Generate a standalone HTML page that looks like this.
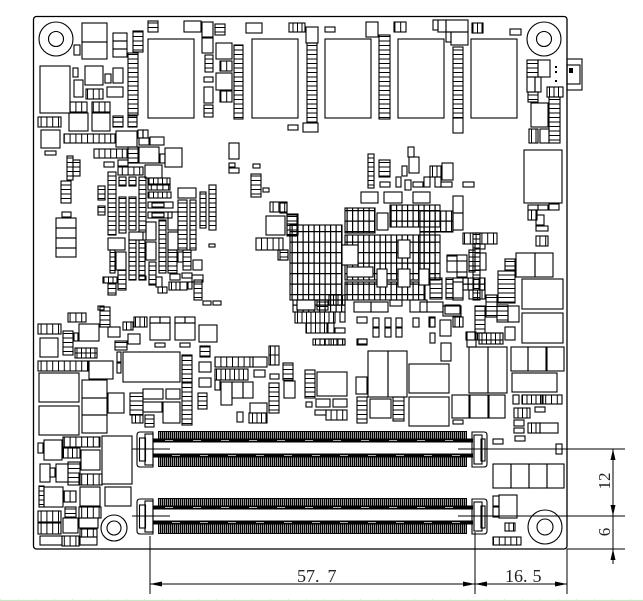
<!DOCTYPE html>
<html><head><meta charset="utf-8">
<style>
html,body{margin:0;padding:0;background:#fff}
svg{display:block}
rect,circle,path{fill:none;stroke:#000;stroke-width:1.1}
line{stroke:#000;stroke-width:1}
.h{fill:url(#ph)} .v{fill:url(#pv)} .v6{fill:url(#pv6)} .g{fill:url(#pg)} .w{fill:#fff}
.blk{fill:#000;stroke:none}
.teeth{fill:url(#pt);stroke:none}
text{font-family:"Liberation Serif",serif;fill:#222}
</style></head>
<body>
<svg width="643" height="601" viewBox="0 0 643 601" xmlns="http://www.w3.org/2000/svg">
<defs>
<pattern id="ph" patternUnits="userSpaceOnUse" width="50" height="4.5"><path d="M0 0.5H50" style="stroke:#000;stroke-width:1;fill:none"/></pattern>
<pattern id="pv" patternUnits="userSpaceOnUse" width="4.5" height="50"><path d="M0.5 0V50" style="stroke:#000;stroke-width:1;fill:none"/></pattern>
<pattern id="pv6" patternUnits="userSpaceOnUse" width="5.8" height="50"><path d="M0.5 0V50" style="stroke:#000;stroke-width:1;fill:none"/></pattern>
<pattern id="pg" patternUnits="userSpaceOnUse" width="5.5" height="10.5"><path d="M0.6 0V10.5M0 0.6H5.5" style="stroke:#000;stroke-width:1.2;fill:none"/></pattern>
<pattern id="pt" patternUnits="userSpaceOnUse" width="2" height="20"><rect x="0" y="0" width="1.4" height="20" style="fill:#000;stroke:none"/></pattern>
</defs>

<!-- board outline -->
<rect x="33.5" y="16.5" width="533.5" height="532.5" rx="3" style="stroke-width:1.3"/>
<!-- right tab -->
<rect x="567" y="59" width="15" height="31"/><rect x="567" y="65" width="13" height="19"/><rect x="569" y="68" width="4" height="5" class="blk"/>
<rect x="555" y="66" width="2" height="2" class="blk"/><rect x="555" y="71" width="2" height="2" class="blk"/><rect x="555" y="80" width="2" height="2" class="blk"/>

<!-- mounting holes -->
<circle cx="56" cy="39" r="17"/><circle cx="56" cy="39" r="7.5"/>
<circle cx="544" cy="39" r="17"/><circle cx="544" cy="39" r="7.5"/>
<circle cx="114" cy="528" r="13"/><circle cx="114" cy="528" r="7"/>
<circle cx="545" cy="527" r="17"/><circle cx="545" cy="527" r="8"/>

<!-- memory chips -->
<rect x="148" y="39" width="46" height="79"/><rect x="252" y="39" width="46" height="79"/>
<rect x="325" y="39" width="46" height="79"/><rect x="398" y="39" width="46" height="79"/>
<rect x="471" y="39" width="46" height="79"/>

<!-- top left -->
<rect x="82" y="23" width="25" height="19"/><rect x="82" y="42" width="25" height="17"/>
<rect x="74" y="45" width="6" height="10"/>
<rect x="113" y="33" width="14" height="8"/><rect x="113" y="41" width="14" height="8"/><rect x="113" y="49" width="14" height="8"/>
<rect class="h" x="133" y="31" width="10" height="21"/>
<rect class="h" x="128" y="53" width="10" height="62"/>
<rect x="40" y="66" width="30" height="47"/>
<rect x="73" y="68" width="5" height="9"/>
<rect x="85" y="66" width="18" height="19"/>
<rect x="105" y="74" width="6" height="9"/>
<rect x="113" y="68" width="10" height="15"/>
<rect x="74" y="80" width="9" height="17"/>
<rect class="v6" x="86" y="89" width="17" height="10"/>
<rect x="107" y="87" width="16" height="10"/>
<rect class="v6" x="70" y="102" width="17" height="10"/>
<rect class="v6" x="92" y="102" width="18" height="10"/>
<rect x="69" y="113" width="19" height="18"/>
<rect x="92" y="113" width="18" height="18"/>
<rect class="v6" x="38" y="117" width="23" height="10"/>
<rect x="41" y="130" width="19" height="18"/>
<rect x="45" y="151" width="11" height="4"/>
<rect class="v6" x="64" y="134" width="51" height="9"/>
<rect x="116" y="131" width="21" height="16"/>
<rect class="h" x="113" y="116" width="10" height="11"/>
<rect class="h" x="128" y="116" width="9" height="11"/>
<rect x="138" y="130" width="5" height="8"/><rect x="143" y="130" width="5" height="8"/><rect x="139" y="138" width="10" height="7"/>
<rect x="150" y="137" width="14" height="8"/>
<rect class="v6" x="94" y="149" width="33" height="9"/>
<rect class="h" x="128" y="147" width="10" height="16"/>
<rect x="139" y="147" width="20" height="16"/>
<rect x="160" y="154" width="5" height="9"/>
<rect x="165" y="148" width="17" height="19"/>
<rect x="104" y="162" width="10" height="5"/>
<rect x="118" y="160" width="10" height="6"/>

<!-- top row small parts -->
<rect class="h" x="148" y="21" width="10" height="11"/>
<rect x="184" y="21" width="17" height="11"/>
<rect x="202" y="22" width="11" height="15"/>
<rect class="h" x="215" y="24" width="10" height="11"/>
<rect x="246" y="23" width="16" height="10"/>
<rect class="v" x="289" y="23" width="16" height="9"/>
<rect x="306" y="27" width="12" height="16"/>
<rect x="325" y="27" width="10" height="5"/>
<rect x="366" y="22" width="12" height="15"/>
<rect class="v6" x="394" y="22" width="12" height="10"/>
<rect x="433" y="20" width="5" height="10"/><rect x="438" y="20" width="8" height="12"/><rect x="446" y="20" width="22" height="12"/>
<rect x="446" y="32" width="5" height="10"/><rect x="451" y="32" width="17" height="13"/>
<rect class="v" x="472" y="23" width="11" height="10"/>
<rect x="510" y="29" width="11" height="6"/>

<!-- columns near chips -->
<rect x="202" y="38" width="11" height="15"/>
<rect class="h" x="205" y="55" width="8" height="17"/>
<rect x="204" y="77" width="9" height="5"/>
<rect x="204" y="87" width="9" height="16"/>
<rect class="h" x="204" y="105" width="9" height="12"/>
<rect x="216" y="43" width="16" height="16"/><rect class="v6" x="220" y="61" width="12" height="10"/>
<rect x="216" y="73" width="16" height="17"/><rect class="v6" x="220" y="91" width="12" height="11"/>
<rect class="h" x="234" y="45" width="9" height="74"/>
<rect class="h" x="307" y="43" width="10" height="79"/>
<rect x="303" y="123" width="15" height="9"/><rect x="288" y="125" width="10" height="5"/>
<rect class="h" x="379" y="35" width="11" height="84"/>
<rect class="h" x="453" y="47" width="10" height="71"/>
<rect x="453" y="118" width="10" height="15"/>

<!-- right top -->
<rect class="h" x="527" y="60" width="11" height="17"/><rect x="538" y="60" width="12" height="17"/>
<rect x="527" y="77" width="8" height="15"/><rect x="535" y="77" width="6" height="15"/>
<rect class="v" x="547" y="87" width="16" height="10"/>
<rect class="h" x="528" y="92" width="10" height="10"/>
<rect x="531" y="103" width="17" height="24"/>
<rect class="h" x="549" y="97" width="11" height="46"/>
<rect class="v" x="529" y="129" width="9" height="14"/><rect x="540" y="129" width="9" height="14"/>
<rect x="524" y="150" width="38" height="53"/>
<rect x="528" y="205" width="10" height="5"/><rect x="538" y="205" width="10" height="5"/><rect x="549" y="204" width="10" height="6"/>
<rect class="v" x="528" y="210" width="9" height="10"/><rect x="536" y="215" width="8" height="10"/><rect x="536" y="226" width="12" height="5"/>
<rect class="v6" x="536" y="236" width="12" height="10"/>
<rect x="516" y="253" width="19" height="24"/><rect x="535" y="253" width="18" height="24"/>
<rect x="522" y="279" width="41" height="30"/><rect x="522" y="313" width="41" height="30"/>
<rect x="511" y="347" width="17" height="24"/><rect x="528" y="347" width="18" height="24"/><rect x="547" y="347" width="17" height="24"/>
<rect x="512" y="373" width="45" height="19"/>
<rect x="513" y="395" width="6" height="9"/><rect class="v" x="522" y="395" width="20" height="9"/><rect class="v6" x="543" y="395" width="19" height="9"/>
<rect class="v" x="514" y="408" width="16" height="10"/><rect x="535" y="407" width="10" height="5"/>
<rect x="514" y="420" width="10" height="6"/><rect class="v" x="528" y="423" width="12" height="10"/><rect x="540" y="423" width="18" height="10"/>
<rect x="514" y="428" width="10" height="5"/><rect x="515" y="436" width="10" height="5"/>
<rect x="493" y="439" width="10" height="5"/>
<rect x="556" y="444" width="6" height="10"/>
<rect x="493" y="464" width="18" height="24"/><rect x="511" y="464" width="18" height="24"/><rect x="529" y="464" width="18" height="24"/><rect x="547" y="464" width="17" height="24"/>
<rect x="493" y="496" width="6" height="10"/><rect x="493" y="507" width="6" height="10"/><rect x="499" y="495" width="18" height="23"/>
<rect class="v" x="505" y="523" width="10" height="8"/>
<rect class="v6" x="493" y="537" width="28" height="8"/>

<!-- middle scattered -->
<rect x="229" y="143" width="10" height="16"/><rect x="229" y="163" width="6" height="4"/><rect x="229" y="168" width="10" height="5"/>
<rect x="253" y="164" width="7" height="4"/><rect class="h" x="251" y="174" width="10" height="23"/><rect x="263" y="188" width="6" height="4"/>
<rect class="h" x="368" y="154" width="6" height="34"/>
<rect class="h" x="379" y="160" width="11" height="17"/><rect x="380" y="182" width="10" height="5"/>
<rect x="408" y="147" width="6" height="10"/><rect x="409" y="157" width="10" height="16"/>
<rect x="402" y="166" width="5" height="10"/><rect x="396" y="177" width="5" height="10"/><rect x="405" y="180" width="6" height="10"/>
<rect x="413" y="182" width="10" height="5"/><rect x="424" y="177" width="6" height="10"/>
<rect class="v" x="430" y="166" width="11" height="11"/><rect x="442" y="163" width="11" height="17"/>
<rect x="435" y="177" width="6" height="10"/><rect x="441" y="182" width="11" height="5"/>
<rect x="463" y="182" width="11" height="5"/>
<rect x="361" y="192" width="17" height="11"/><rect x="384" y="192" width="18" height="11"/><rect x="413" y="192" width="17" height="11"/>
<rect x="453" y="196" width="10" height="17"/><rect x="453" y="213" width="10" height="17"/>
<rect class="v6" x="270" y="202" width="17" height="10"/>
<rect x="266" y="216" width="19" height="19"/>
<rect x="287" y="214" width="11" height="10"/><rect x="287" y="224" width="11" height="11"/>
<rect class="v6" x="256" y="238" width="27" height="12"/>
<rect x="278" y="250" width="10" height="10"/>
<rect x="209" y="244" width="6" height="3"/>
<rect x="280" y="203" width="7" height="10"/>
<rect class="h" x="280" y="250" width="8" height="10"/>

<!-- left small group -->
<rect class="h" x="67" y="156" width="6" height="24"/><rect class="h" x="73" y="160" width="7" height="16"/>
<rect class="h" x="61" y="181" width="10" height="22"/>
<rect x="62" y="212" width="9" height="5"/>
<rect x="56" y="218" width="20" height="10"/><rect x="56" y="228" width="20" height="10"/><rect x="56" y="238" width="20" height="10"/><rect x="56" y="248" width="20" height="9"/>

<!-- left dense region -->
<rect class="h" x="98" y="186" width="7" height="14"/>
<rect class="h" x="98" y="206" width="7" height="9"/>
<rect class="h" x="108" y="172" width="8" height="63"/>
<rect class="h" x="119" y="197" width="7" height="36"/>
<rect class="h" x="129" y="197" width="7" height="33"/>
<rect class="h" x="139" y="177" width="7" height="55"/>
<rect class="v6" x="118" y="167" width="25" height="8"/>
<rect x="145" y="165" width="17" height="13"/>
<rect class="h" x="119" y="177" width="7" height="9"/><rect class="h" x="129" y="177" width="7" height="9"/>
<rect class="v" x="148" y="178" width="22" height="6"/>
<rect class="v6" x="148" y="185" width="22" height="5"/>
<rect class="v" x="148" y="192" width="23" height="6"/>
<rect x="148" y="202" width="25" height="6"/><rect x="152" y="203" width="12" height="4"/>
<rect x="148" y="212" width="24" height="6"/><rect x="152" y="213" width="12" height="4"/>
<rect x="178" y="188" width="18" height="10"/>
<rect class="h" x="178" y="200" width="9" height="50"/>
<rect class="h" x="190" y="200" width="6" height="50"/>
<rect class="h" x="200" y="192" width="6" height="36"/>
<rect class="h" x="209" y="185" width="7" height="45"/>
<rect class="h" x="159" y="220" width="7" height="53"/>
<rect x="146" y="222" width="10" height="18"/>
<rect x="168" y="212" width="10" height="18"/>
<rect x="168" y="232" width="10" height="18"/>
<rect x="108" y="238" width="17" height="12"/>
<rect x="129" y="232" width="14" height="8"/>
<rect class="h" x="110" y="250" width="5" height="23"/>
<rect x="116" y="252" width="10" height="18"/>
<rect class="h" x="129" y="240" width="7" height="40"/>
<rect class="h" x="139" y="240" width="6" height="40"/>
<rect x="146" y="242" width="10" height="18"/>
<rect class="h" x="149" y="262" width="7" height="23"/>
<rect class="h" x="168" y="250" width="9" height="23"/>
<rect x="178" y="252" width="5" height="10"/>
<rect class="h" x="183" y="250" width="8" height="20"/>
<rect x="193" y="260" width="9" height="10"/>
<rect class="v" x="103" y="277" width="14" height="6"/>
<rect class="h" x="108" y="283" width="8" height="12"/>
<rect class="h" x="118" y="270" width="8" height="20"/>
<rect x="139" y="276" width="7" height="4"/>
<rect x="156" y="277" width="6" height="10"/>
<rect class="v" x="158" y="287" width="9" height="6"/>
<rect x="170" y="274" width="10" height="6"/>
<rect class="v" x="169" y="282" width="11" height="8"/>
<rect x="182" y="273" width="10" height="5"/>
<rect x="192" y="275" width="11" height="7"/>
<rect x="180" y="282" width="7" height="8"/>
<rect x="188" y="282" width="4" height="7"/>
<rect class="h" x="194" y="280" width="8" height="20"/>
<rect x="203" y="301" width="8" height="4"/><rect x="213" y="301" width="8" height="4"/>
<rect x="98" y="306" width="6" height="4"/>

<!-- center dense region -->
<rect class="g" x="290" y="225" width="52" height="75"/>
<rect class="g" x="345" y="208" width="30" height="25"/>
<rect class="g" x="390" y="205" width="50" height="22"/>
<rect class="g" x="345" y="235" width="95" height="45"/>
<rect class="g" x="345" y="282" width="80" height="18"/>
<rect class="g" x="420" y="211" width="33" height="21"/>
<rect class="g" x="420" y="232" width="15" height="48"/>
<rect class="g" x="463" y="278" width="22" height="12"/>
<rect class="g" x="293" y="300" width="52" height="12"/>
<rect class="w" x="342" y="245" width="16" height="20"/>
<rect class="w" x="377" y="213" width="11" height="17"/>
<rect class="w" x="398" y="240" width="12" height="18"/>
<rect class="w" x="377" y="269" width="10" height="18"/>
<rect class="w" x="398" y="269" width="12" height="18"/>
<rect class="w" x="419" y="269" width="10" height="16"/>
<rect class="w" x="347" y="267" width="26" height="10"/>
<rect class="w" x="297" y="300" width="18" height="10"/>
<rect class="h" x="287" y="215" width="10" height="21"/>
<rect class="h" x="473" y="233" width="7" height="67"/>
<rect x="447" y="255" width="20" height="17"/>
<rect x="453" y="278" width="10" height="22"/>
<rect class="v6" x="463" y="233" width="34" height="11"/>
<rect x="475" y="244" width="10" height="5"/>
<rect x="447" y="256" width="10" height="5"/>
<rect x="457" y="261" width="10" height="16"/>
<rect class="h" x="469" y="250" width="6" height="22"/>
<rect x="475" y="253" width="11" height="17"/>
<rect class="v" x="469" y="290" width="16" height="9"/>
<rect class="h" x="430" y="278" width="12" height="21"/>
<rect class="h" x="446" y="278" width="7" height="21"/>
<rect x="453" y="282" width="10" height="16"/>
<rect class="h" x="505" y="259" width="10" height="11"/>
<rect class="h" x="498" y="271" width="17" height="32"/>
<rect x="420" y="302" width="23" height="10"/>
<rect x="443" y="306" width="18" height="10"/>
<rect class="h" x="475" y="306" width="10" height="27"/>
<rect class="h" x="486" y="295" width="11" height="22"/>
<rect class="h" x="497" y="305" width="11" height="17"/>
<rect x="508" y="306" width="11" height="16"/>
<rect x="429" y="317" width="6" height="10"/>
<rect x="440" y="320" width="11" height="16"/>
<rect class="v" x="453" y="317" width="10" height="10"/>
<rect class="v" x="476" y="333" width="27" height="7"/>
<rect x="505" y="327" width="10" height="13"/>
<rect x="466" y="332" width="9" height="8"/>

<!-- lower middle -->
<rect x="297" y="300" width="18" height="10"/><rect class="h" x="317" y="300" width="11" height="10"/>
<rect class="v" x="329" y="295" width="16" height="10"/>
<rect class="v" x="295" y="312" width="40" height="11"/>
<rect class="v" x="306" y="323" width="21" height="10"/>
<rect x="328" y="323" width="6" height="10"/><rect x="335" y="328" width="10" height="5"/>
<rect x="340" y="312" width="5" height="10"/>
<rect class="v" x="313" y="339" width="32" height="6"/>
<rect x="357" y="339" width="10" height="6"/>
<rect x="357" y="317" width="10" height="6"/>
<rect x="354" y="302" width="17" height="10"/><rect x="371" y="302" width="17" height="10"/>
<rect x="390" y="300" width="12" height="6"/>
<rect x="410" y="300" width="17" height="12"/>
<rect x="445" y="305" width="15" height="9"/>
<rect x="373" y="318" width="6" height="9"/><rect x="373" y="328" width="6" height="9"/>
<rect x="385" y="318" width="6" height="9"/><rect x="385" y="328" width="6" height="9"/>
<rect x="396" y="318" width="6" height="9"/><rect x="396" y="328" width="6" height="9"/>
<rect x="413" y="318" width="6" height="9"/>
<rect x="430" y="318" width="5" height="9"/><rect x="430" y="333" width="5" height="10"/>
<rect x="441" y="343" width="10" height="18"/>
<rect x="467" y="332" width="9" height="15"/>
<rect class="v" x="479" y="333" width="24" height="11"/>
<rect x="358" y="339" width="9" height="5"/>
<rect class="v6" x="320" y="339" width="25" height="6"/>
<rect x="368" y="351" width="20" height="46"/><rect x="388" y="351" width="19" height="46"/>
<rect x="356" y="377" width="11" height="17"/>
<rect class="h" x="357" y="397" width="10" height="26"/>
<rect x="370" y="399" width="21" height="19"/>
<rect class="h" x="393" y="397" width="11" height="24"/>
<rect x="409" y="364" width="40" height="29"/><rect x="409" y="397" width="40" height="29"/>
<rect x="452" y="395" width="17" height="23"/><rect x="470" y="395" width="18" height="23"/><rect x="489" y="395" width="16" height="23"/>
<rect x="469" y="347" width="19" height="46"/><rect x="488" y="347" width="19" height="46"/>
<rect x="453" y="420" width="10" height="4"/>
<rect class="h" x="305" y="370" width="10" height="28"/>
<rect x="317" y="372" width="30" height="24"/>
<rect x="316" y="399" width="14" height="8"/><rect x="333" y="399" width="14" height="8"/>
<rect x="315" y="410" width="11" height="5"/><rect class="v6" x="326" y="410" width="21" height="10"/>
<rect x="306" y="402" width="6" height="5"/>

<!-- left-middle lower -->
<rect class="v6" x="38" y="324" width="23" height="10"/>
<rect class="v6" x="68" y="313" width="18" height="9"/>
<rect class="h" x="63" y="331" width="10" height="24"/>
<rect x="74" y="333" width="4" height="8"/>
<rect x="40" y="338" width="18" height="19"/>
<rect x="79" y="324" width="20" height="17"/>
<rect class="v" x="75" y="348" width="22" height="10"/><line x1="75" y1="353" x2="97" y2="353"/>
<rect class="v6" x="38" y="361" width="50" height="10"/>
<rect x="39" y="373" width="40" height="29"/>
<rect x="39" y="406" width="40" height="29"/>
<rect x="89" y="361" width="24" height="18"/>
<rect x="82" y="380" width="25" height="18"/><rect x="82" y="398" width="25" height="17"/><rect x="82" y="415" width="25" height="18"/>
<rect x="108" y="393" width="16" height="20"/>
<rect x="123" y="352" width="57" height="30"/>
<rect class="h" x="182" y="355" width="10" height="27"/>
<rect x="199" y="325" width="18" height="17"/>
<rect x="150" y="317" width="10" height="6"/><rect x="160" y="317" width="10" height="6"/><rect x="150" y="323" width="20" height="17"/>
<rect x="175" y="317" width="10" height="6"/><rect x="185" y="317" width="10" height="6"/><rect x="175" y="323" width="20" height="17"/>
<rect x="155" y="343" width="10" height="4"/><rect x="180" y="343" width="10" height="4"/>
<rect x="117" y="352" width="4" height="10"/><rect x="117" y="363" width="4" height="10"/>
<rect class="h" x="115" y="341" width="12" height="9"/>
<rect x="128" y="334" width="12" height="10"/>
<rect class="v" x="123" y="322" width="10" height="8"/>
<rect class="v" x="134" y="317" width="13" height="10"/>
<rect class="h" x="100" y="307" width="10" height="20"/>
<rect x="108" y="327" width="12" height="10"/>
<rect class="h" x="200" y="346" width="10" height="11"/>
<rect x="199" y="362" width="12" height="10"/>
<rect x="199" y="378" width="12" height="9"/>
<rect class="h" x="198" y="393" width="9" height="16"/>
<rect class="v6" x="215" y="357" width="38" height="10"/><rect x="253" y="357" width="14" height="10"/>
<rect class="v" x="215" y="369" width="33" height="11"/>
<rect x="215" y="380" width="5" height="10"/>
<rect x="221" y="382" width="11" height="23"/>
<rect x="232" y="382" width="11" height="16"/><rect x="243" y="382" width="10" height="16"/>
<rect x="254" y="370" width="11" height="7"/>
<rect x="250" y="403" width="17" height="10"/>
<rect class="v" x="249" y="413" width="18" height="10"/>
<rect x="237" y="412" width="6" height="10"/>
<rect class="v" x="269" y="346" width="10" height="19"/><line x1="269" y1="355" x2="279" y2="355"/>
<rect x="270" y="374" width="9" height="5"/>
<rect class="h" x="269" y="383" width="10" height="30"/>
<rect class="h" x="283" y="363" width="10" height="17"/>
<rect x="284" y="381" width="11" height="17"/>
<rect x="143" y="389" width="20" height="10"/><rect x="166" y="389" width="14" height="10"/>
<rect x="143" y="402" width="19" height="10"/>
<rect x="163" y="402" width="17" height="21"/>
<rect class="h" x="182" y="383" width="10" height="42"/>
<rect class="h" x="130" y="393" width="13" height="22"/>
<rect class="v" x="132" y="415" width="11" height="8"/>
<rect class="h" x="145" y="415" width="9" height="12"/>
<rect x="102" y="436" width="30" height="48"/>
<rect class="v6" x="63" y="437" width="37" height="10"/>
<rect class="v" x="63" y="448" width="17" height="10"/>
<rect x="38" y="443" width="5" height="10"/>
<rect x="44" y="440" width="18" height="20"/>
<rect x="81" y="450" width="19" height="20"/>
<rect x="40" y="464" width="10" height="18"/>
<rect x="50" y="468" width="5" height="9"/>
<rect x="56" y="464" width="12" height="18"/>
<rect class="h" x="68" y="462" width="12" height="23"/>
<rect class="v6" x="79" y="474" width="23" height="11"/>
<rect class="h" x="39" y="486" width="5" height="21"/>
<rect x="44" y="487" width="19" height="20"/>
<rect class="v6" x="64" y="491" width="12" height="11"/>
<rect x="80" y="487" width="20" height="19"/>
<rect x="105" y="487" width="26" height="19"/>
<rect class="h" x="65" y="507" width="11" height="10"/>
<rect class="v6" x="38" y="511" width="23" height="11"/>
<rect class="v6" x="38" y="523" width="23" height="11"/>
<rect x="63" y="518" width="15" height="15"/>
<rect class="v6" x="79" y="507" width="22" height="11"/>
<rect x="79" y="518" width="19" height="10"/>
<rect class="v6" x="80" y="529" width="17" height="8"/><rect x="80" y="537" width="17" height="8"/>
<rect x="40" y="536" width="22" height="9"/>
<rect class="v6" x="62" y="536" width="17" height="10"/>

<!-- connectors -->
<g>
<rect class="teeth" x="158" y="431" width="309" height="9"/>
<rect class="blk" x="158" y="431" width="309" height="1"/>
<rect class="blk" x="153" y="438.5" width="320" height="4"/>
<rect class="blk" x="153" y="453.5" width="320" height="4"/>
<rect class="teeth" x="158" y="457" width="309" height="10"/>
<rect class="blk" x="158" y="466" width="309" height="1"/>
<line x1="165" y1="440.5" x2="465" y2="440.5" style="stroke:#aaa;stroke-dasharray:8 20"/>
<line x1="172" y1="455.5" x2="465" y2="455.5" style="stroke:#aaa;stroke-dasharray:8 20"/>
<path d="M140 432H153V467H140Q137 467 137 464V435Q137 432 140 432Z"/>
<rect x="139.5" y="438" width="6" height="23"/>
<rect x="145" y="434" width="8" height="31"/>
<path d="M472 432H484Q487 432 487 435V464Q487 467 484 467H472Z"/>
<rect x="474" y="435" width="8" height="29"/><rect x="481" y="439" width="4" height="22"/>
</g>
<g>
<rect class="teeth" x="158" y="498" width="309" height="9"/>
<rect class="blk" x="158" y="498" width="309" height="1"/>
<rect class="blk" x="153" y="505.5" width="320" height="4"/>
<rect class="blk" x="153" y="520.5" width="320" height="4"/>
<rect class="teeth" x="158" y="524" width="309" height="10"/>
<rect class="blk" x="158" y="533" width="309" height="1"/>
<line x1="165" y1="507.5" x2="465" y2="507.5" style="stroke:#aaa;stroke-dasharray:8 20"/>
<line x1="172" y1="522.5" x2="465" y2="522.5" style="stroke:#aaa;stroke-dasharray:8 20"/>
<path d="M140 499H153V534H140Q137 534 137 531V502Q137 499 140 499Z"/>
<rect x="139.5" y="505" width="6" height="23"/>
<rect x="145" y="501" width="8" height="31"/>
<path d="M472 499H484Q487 499 487 502V531Q487 534 484 534H472Z"/>
<rect x="474" y="502" width="8" height="29"/><rect x="481" y="506" width="4" height="22"/>
</g>

<!-- center / extension lines -->
<line x1="132" y1="449" x2="170" y2="449"/>
<line x1="132" y1="516" x2="170" y2="516"/>
<line x1="458" y1="449" x2="625" y2="449"/>
<line x1="458" y1="516" x2="625" y2="516"/>
<line x1="567" y1="549" x2="625" y2="549"/>
<line x1="613" y1="449" x2="613" y2="564"/>
<path d="M613 449L610.5 460H615.5Z" class="blk"/>
<path d="M613 516L610.5 505H615.5Z" class="blk"/>
<path d="M613 549L610.5 560H615.5Z" class="blk"/>

<line x1="150" y1="536" x2="150" y2="594"/>
<line x1="475" y1="532" x2="475" y2="594"/>
<line x1="567" y1="549" x2="567" y2="594"/>
<line x1="150" y1="584" x2="567" y2="584"/>
<path d="M150 584L162 581.5V586.5Z" class="blk"/>
<path d="M475 584L463 581.5V586.5Z" class="blk"/>
<path d="M475 584L487 581.5V586.5Z" class="blk"/>
<path d="M567 584L555 581.5V586.5Z" class="blk"/>

<text x="297" y="582" font-size="18">57.<tspan dx="8">7</tspan></text>
<text x="505" y="582" font-size="18">16.<tspan dx="5">5</tspan></text>
<text transform="translate(610,481) rotate(-90)" text-anchor="middle" font-size="17">12</text>
<text transform="translate(610,532) rotate(-90)" text-anchor="middle" font-size="17">6</text>

<!-- bottom green guide line -->
<line x1="0" y1="600.5" x2="643" y2="600.5" style="stroke:#c4eac4"/>
<line x1="0" y1="599.5" x2="643" y2="599.5" style="stroke:#d6efd6;stroke-dasharray:1 17"/>
</svg>
</body></html>
